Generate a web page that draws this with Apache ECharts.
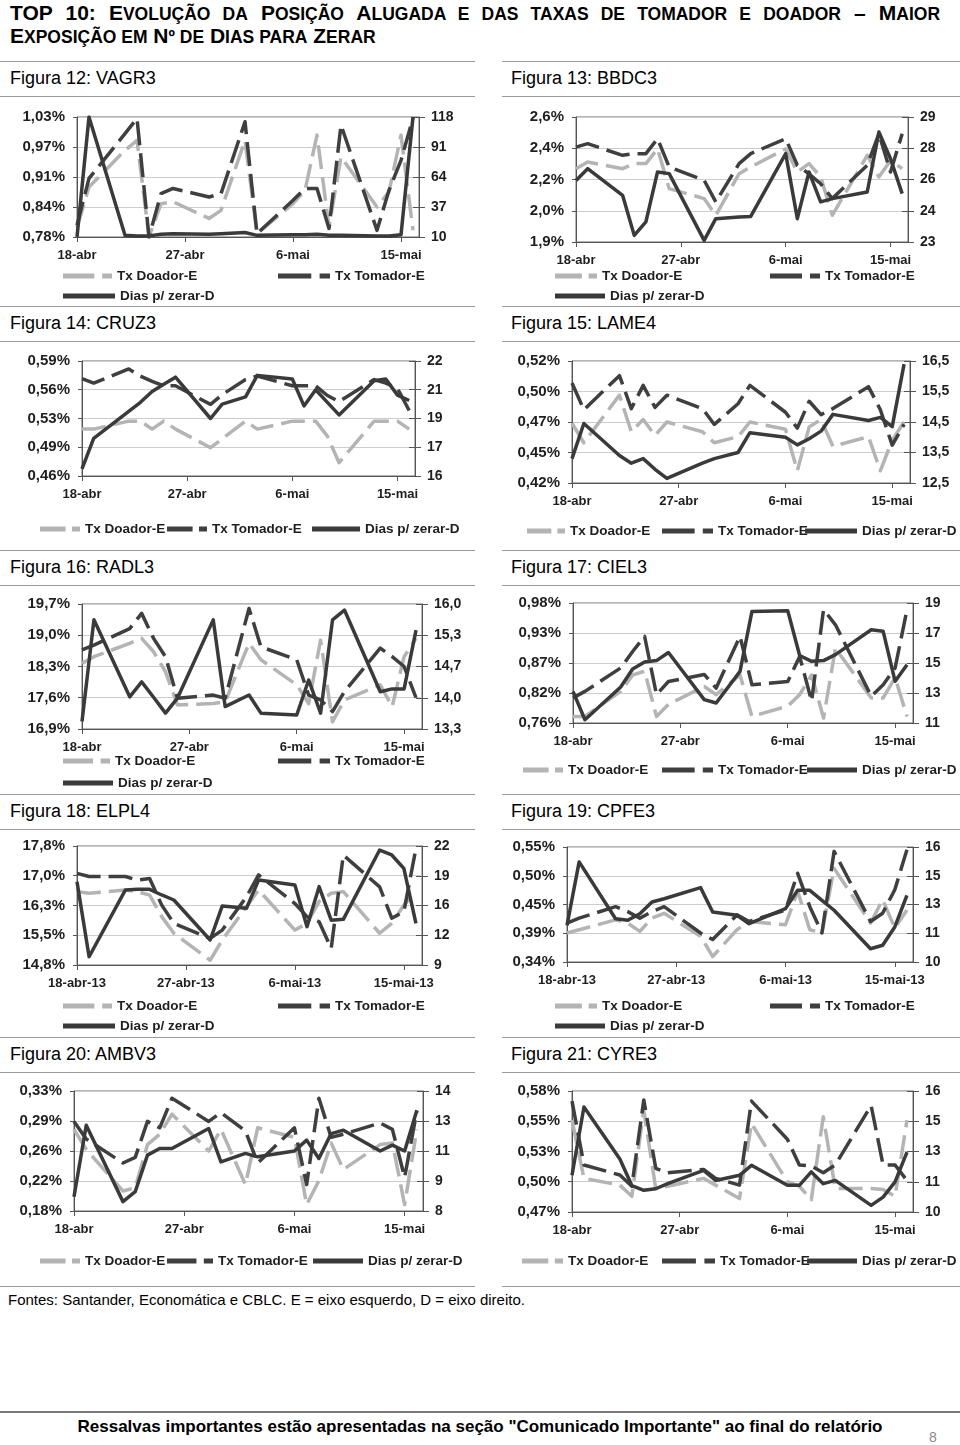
<!DOCTYPE html>
<html lang="pt"><head><meta charset="utf-8"><title>TOP 10 - Posição Alugada</title>
<script src="https://cdn.jsdelivr.net/npm/echarts@6.0.0/dist/echarts.min.js"></script>
<style>
html,body{margin:0;padding:0;background:#fff}
body{position:relative;width:960px;height:1445px;overflow:hidden;font-family:'Liberation Sans',Arial,Helvetica,sans-serif;color:#000}
.abs{position:absolute}
.title{left:10px;font-weight:bold;font-size:21px;line-height:23px;white-space:nowrap}
.title .s{font-size:17.5px;text-transform:uppercase}
.just{width:930px;text-align:justify;text-align-last:justify}
.fig{font-size:18px;line-height:20px;white-space:nowrap}
.rule{height:1px;background:#9a9a9a}
</style></head>
<body>
<div class="abs title just" style="top:1px">TOP 10: E<span class="s">volução da</span> P<span class="s">osição</span> A<span class="s">lugada e das taxas de tomador e doador</span> – M<span class="s">aior</span></div>
<div class="abs title" style="top:24px">E<span class="s">xposição em</span> N<span class="s">º de</span> D<span class="s">ias para</span> Z<span class="s">erar</span></div>
<div id="labels"></div>
<div class="abs" style="left:8px;top:1291px;font-size:15px;line-height:18px;white-space:nowrap">Fontes: Santander, Economática e CBLC. E = eixo esquerdo, D = eixo direito.</div>
<div class="abs" style="left:0;top:1411px;width:960px;height:2px;background:#7a7a7a"></div>
<div class="abs" style="left:0;top:1417px;width:960px;text-align:center;font-weight:bold;font-size:17px;line-height:20px;white-space:nowrap">Ressalvas importantes estão apresentadas na seção "Comunicado Importante" ao final do relatório</div>
<div class="abs" style="left:929px;top:1429px;font-size:14px;color:#8a8a8a">8</div>
<script>
// ---------- data ----------
const dates = ['2013-04-18','2013-04-19','2013-04-22','2013-04-23','2013-04-24','2013-04-25','2013-04-26','2013-04-29','2013-04-30','2013-05-02','2013-05-03','2013-05-06','2013-05-07','2013-05-08','2013-05-09','2013-05-10','2013-05-13','2013-05-14','2013-05-15','2013-05-16'];
const xTickDates = ['2013-04-18','2013-04-27','2013-05-06','2013-05-15'];
const xTickLabels = ['18-abr','27-abr','6-mai','15-mai'];
const xTickLabelsYear = ['18-abr-13','27-abr-13','6-mai-13','15-mai-13'];
const seriesNames = ['Tx Doador-E','Tx Tomador-E','Dias p/ zerar-D'];

const vagr3Doador  = [0.800,0.885,0.962,0.983,0.780,0.850,0.854,0.819,0.836,0.983,0.787,0.850,0.878,0.994,0.801,0.948,0.843,0.875,0.994,0.794];
const vagr3Tomador = [0.805,0.903,0.997,1.029,0.780,0.871,0.882,0.864,0.871,1.022,0.787,0.857,0.882,0.882,0.798,1.015,0.794,0.878,0.941,1.030];
const vagr3Dias    = [10,118,11.5,11,11,12.5,13,12.5,13,14,11.5,12,12,12.5,11.5,11.5,11,11,12,118];

const bbdc3Doador  = [2.294,2.334,2.294,2.324,2.324,2.412,2.176,2.117,2.018,2.264,2.304,2.412,2.274,2.324,2.245,2.018,2.373,2.245,2.343,2.294];
const bbdc3Tomador = [2.422,2.442,2.373,2.383,2.383,2.472,2.304,2.225,2.097,2.324,2.383,2.472,2.314,2.264,2.205,2.117,2.314,2.501,2.274,2.501];
const bbdc3Dias    = [25.95,26.59,25.14,22.96,23.69,26.41,26.32,22.69,23.87,23.96,23.99,27.41,23.87,26.41,24.78,24.96,25.32,28.58,27.13,25.23];

const cruz3Doador  = [0.514,0.514,0.523,0.523,0.514,0.523,0.514,0.493,0.503,0.523,0.514,0.523,0.523,0.523,0.506,0.476,0.523,0.523,0.523,0.514];
const cruz3Tomador = [0.571,0.566,0.582,0.574,0.568,0.563,0.563,0.542,0.553,0.570,0.574,0.563,0.563,0.563,0.552,0.545,0.570,0.566,0.560,0.535];
const cruz3Dias    = [16.2,17.9,19.4,19.9,20.5,20.9,21.3,19.0,19.8,20.2,21.4,21.2,19.7,20.6,19.9,19.2,21.1,21.2,20.3,20.0];

const lame4Doador  = [0.471,0.455,0.494,0.464,0.474,0.461,0.472,0.464,0.455,0.460,0.472,0.466,0.432,0.468,0.474,0.452,0.460,0.432,0.457,0.472];
const lame4Tomador = [0.504,0.482,0.510,0.483,0.502,0.484,0.494,0.483,0.470,0.487,0.502,0.480,0.467,0.489,0.478,0.483,0.501,0.482,0.453,0.470];
const lame4Dias    = [13.3,14.45,13.4,13.15,13.3,12.95,12.65,13.15,13.3,13.5,14.15,14.0,13.75,13.95,14.2,14.75,14.55,14.65,14.35,16.4];

const radl3Doador  = [18.37,18.52,18.82,18.93,18.63,18.18,17.44,17.47,17.51,18.82,18.45,17.89,17.47,18.89,17.06,17.55,17.89,17.40,18.52,18.93];
const radl3Tomador = [18.67,18.78,19.15,19.49,18.93,18.52,17.59,17.66,17.59,19.60,18.74,18.45,17.66,17.55,17.29,17.74,18.71,18.52,18.30,17.60];
const radl3Dias    = [13.48,15.66,14.01,14.33,14.00,13.66,13.98,15.66,13.80,14.05,13.66,13.62,14.37,13.66,15.66,15.87,14.12,14.18,14.18,15.44];

const ciel3Doador  = [0.774,0.774,0.820,0.850,0.857,0.774,0.796,0.829,0.814,0.850,0.774,0.793,0.814,0.850,0.771,0.899,0.808,0.808,0.845,0.774];
const ciel3Tomador = [0.808,0.820,0.863,0.893,0.921,0.814,0.838,0.851,0.826,0.921,0.832,0.838,0.884,0.802,0.970,0.942,0.811,0.832,0.863,0.970];
const ciel3Dias    = [13.11,11.22,13.4,14.6,15.07,15.16,15.7,12.56,12.33,14.44,18.44,18.49,15.5,15.11,15.16,15.56,17.22,17.11,13.78,14.89];

const elpl4Doador  = [16.63,16.59,16.67,16.63,16.54,16.00,15.58,14.90,15.41,16.25,16.67,15.66,15.83,16.38,16.59,16.63,15.58,15.83,16.29,16.63];
const elpl4Tomador = [17.09,17.01,17.01,16.92,16.96,16.29,15.83,15.45,15.66,16.50,17.05,16.33,16.00,15.87,15.20,17.55,16.75,15.96,16.12,17.72];
const elpl4Dias    = [18.2,10.0,17.3,17.37,17.37,16.75,16.2,11.83,15.55,15.29,18.39,17.84,13.29,17.66,14.0,14.09,21.66,21.12,19.66,13.65];

const cpfe3Doador  = [0.394,0.400,0.418,0.412,0.397,0.421,0.430,0.388,0.351,0.400,0.415,0.409,0.470,0.400,0.394,0.512,0.412,0.455,0.403,0.436];
const cpfe3Tomador = [0.412,0.421,0.442,0.433,0.421,0.433,0.442,0.394,0.382,0.427,0.415,0.436,0.503,0.442,0.394,0.543,0.415,0.430,0.473,0.546];
const cpfe3Dias    = [11.84,15.37,12.21,12.12,12.49,13.14,13.32,13.94,12.58,12.40,11.93,12.77,13.79,13.79,13.23,12.68,10.54,10.73,11.75,13.51];

const ambv3Doador  = [0.283,0.258,0.206,0.210,0.264,0.277,0.302,0.256,0.283,0.214,0.285,0.273,0.189,0.219,0.266,0.233,0.264,0.266,0.189,0.283];
const ambv3Tomador = [0.293,0.271,0.241,0.248,0.293,0.285,0.322,0.293,0.304,0.281,0.241,0.285,0.214,0.322,0.273,0.277,0.291,0.283,0.223,0.306];
const ambv3Dias    = [8.56,12.37,8.3,8.83,10.78,11.13,11.13,12.2,10.42,10.87,10.69,11.0,11.58,10.6,11.93,12.11,11.0,11.31,11.0,13.17];

const cyre3Doador  = [0.554,0.502,0.496,0.486,0.563,0.493,0.495,0.502,0.496,0.484,0.551,0.499,0.495,0.483,0.557,0.493,0.493,0.492,0.486,0.554];
const cyre3Tomador = [0.571,0.514,0.505,0.495,0.572,0.511,0.507,0.510,0.502,0.496,0.571,0.537,0.514,0.513,0.507,0.514,0.567,0.514,0.514,0.500];
const cyre3Dias    = [11.74,15.35,12.6,11.2,10.95,11.03,11.3,12.0,11.47,11.74,12.27,11.21,11.21,11.92,11.3,11.47,10.15,10.59,11.39,12.97];

// ---------- layout / axis settings ----------
const FONT = "'Liberation Sans', Arial, Helvetica, sans-serif";
const X_MAX = 28.5;
const panels = [
 {fig:'Figura 12: VAGR3', d:vagr3Doador, t:vagr3Tomador, z:vagr3Dias, l:[0.78,1.032,2], r:[10,118,0], col:0, xl:77, xr:419, yt:117, yb:237, xlab:xTickLabels, ly:78, leg:[[63,277,49],[278,277,52],[63,297,52]]},
 {fig:'Figura 13: BBDC3', d:bbdc3Doador, t:bbdc3Tomador, z:bbdc3Dias, l:[1.86,2.6,1], r:[22.6,29.4,0], col:1, xl:576, xr:908, yt:117, yb:242, xlab:xTickLabels, ly:78, leg:[[555,277,42],[770,277,50],[555,297,50]]},
 {fig:'Figura 14: CRUZ3', d:cruz3Doador, t:cruz3Tomador, z:cruz3Dias, l:[0.461,0.591,2], r:[15.8,22.2,0], col:0, xl:82, xr:415, yt:361, yb:476, xlab:xTickLabels, ly:323, leg:[[40,530,40],[167,530,40],[312,530,48]]},
 {fig:'Figura 15: LAME4', d:lame4Doador, t:lame4Tomador, z:lame4Dias, l:[0.422,0.522,2], r:[12.5,16.5,1], col:1, xl:572, xr:910, yt:361, yb:483, xlab:xTickLabels, ly:323, leg:[[527,532,38],[662,532,51],[805,532,52]]},
 {fig:'Figura 16: RADL3', d:radl3Doador, t:radl3Tomador, z:radl3Dias, l:[16.9,19.7,1], r:[13.32,16.0,1], col:0, xl:82, xr:422, yt:604, yb:729, xlab:xTickLabels, ly:567, leg:[[63,762,47],[278,762,52],[63,784,50]]},
 {fig:'Figura 17: CIEL3', d:ciel3Doador, t:ciel3Tomador, z:ciel3Dias, l:[0.762,0.982,2], r:[11,19,0], col:1, xl:573, xr:913, yt:603, yb:723, xlab:xTickLabels, ly:567, leg:[[523,771,40],[662,771,51],[807,771,50]]},
 {fig:'Figura 18: ELPL4', d:elpl4Doador, t:elpl4Tomador, z:elpl4Dias, l:[14.78,17.78,1], r:[9.1,22.1,0], col:0, xl:77, xr:422, yt:846, yb:965, xlab:xTickLabelsYear, ly:811, leg:[[63,1007,49],[278,1007,52],[63,1027,52]]},
 {fig:'Figura 19: CPFE3', d:cpfe3Doador, t:cpfe3Tomador, z:cpfe3Dias, l:[0.341,0.551,2], r:[9.8,16.2,0], col:1, xl:567, xr:913, yt:847, yb:962, xlab:xTickLabelsYear, ly:811, leg:[[555,1007,42],[770,1007,50],[555,1027,50]]},
 {fig:'Figura 20: AMBV3', d:ambv3Doador, t:ambv3Tomador, z:ambv3Dias, l:[0.181,0.331,2], r:[7.8,14.2,0], col:0, xl:74, xr:423, yt:1091, yb:1211, xlab:xTickLabels, ly:1054, leg:[[40,1262,40],[167,1262,46],[313,1262,50]]},
 {fig:'Figura 21: CYRE3', d:cyre3Doador, t:cyre3Tomador, z:cyre3Dias, l:[0.472,0.580,2], r:[9.8,16.2,0], col:1, xl:572, xr:913, yt:1091, yb:1212, xlab:xTickLabels, ly:1054, leg:[[522,1262,41],[662,1262,53],[807,1262,50]]}
];

const DAY = 86400000;
const t0 = Date.parse(dates[0]);
const dayOffset = dates.map(d => (Date.parse(d) - t0) / DAY);
const tickDays = xTickDates.map(d => (Date.parse(d) - t0) / DAY);
const fmtNum = (v, dec) => v.toFixed(dec).replace('.', ',');

// ---------- page labels & rules ----------
const lab = document.getElementById('labels');
function addDiv(css, cls, txt){ const e=document.createElement('div'); e.className='abs '+(cls||''); e.style.cssText=css; if(txt) e.textContent=txt; lab.appendChild(e); }
[78,323,567,811,1054,1303].forEach((y,i) => {
  addDiv(`left:0;top:${y-17}px;width:475px`, 'rule');
  addDiv(`left:502px;top:${y-17}px;width:458px`, 'rule');
  if (i < 5) {
    addDiv(`left:0;top:${y+18}px;width:475px`, 'rule');
    addDiv(`left:502px;top:${y+18}px;width:458px`, 'rule');
  }
});
panels.forEach(p => addDiv(`left:${p.col?511:10}px;top:${p.ly-10}px`, 'fig', p.fig));

// ---------- charts ----------
const AX = '#555555';
const LABEL = '#1e1e1e';
const COLORS = ['#b4b4b4', '#3f3f3f', '#3a3a3a'];
const DASH_ICON = 'path://M0,0H64V10H0Z M80,0H100V10H80Z';
const LEG_ICONS = [DASH_ICON, DASH_ICON, 'rect'];
function yAxis(rng, pct, pos, crossOnly){
  const [min,max,dec] = rng;
  const interval = +((max-min)/4).toFixed(8);
  return {
    type:'value', position:pos, min, max, interval, scale:true,
    axisLine:{show:!crossOnly, lineStyle:{color:AX, width:1}},
    axisTick:{show:true, inside:!!crossOnly, length:crossOnly?6:(pos==='right'?6:4), lineStyle:{color:AX, width:1}},
    axisLabel:{show:!crossOnly, margin:12, color:LABEL, fontSize:pct?15:14, fontWeight:'bold', fontFamily:FONT,
      formatter: v => fmtNum(v, dec) + (pct ? '%' : '')},
    splitLine:{show: pct && !crossOnly, lineStyle:{color:'#cdcdcd', width:1}}
  };
}
const toPts = vals => vals.map((v,i) => [dayOffset[i], v]);

panels.forEach(p => {
  const divLeft = p.col * 480;
  const divTop = p.yt - 20;
  const legBottom = Math.max(...p.leg.map(l => l[1])) + 12;
  const h = legBottom - divTop;
  const el = document.createElement('div');
  el.style.cssText = `position:absolute;left:${divLeft}px;top:${divTop}px;width:480px;height:${h}px`;
  document.body.appendChild(el);
  const chart = echarts.init(el, null, {renderer:'canvas', width:480, height:h});
  const lineBase = {type:'line', symbol:'none', showSymbol:false, animation:false, silent:true};
  chart.setOption({
    animation:false,
    grid:{left:p.xl-divLeft, top:20, width:p.xr-p.xl, height:p.yb-p.yt, show:true, borderColor:'#6a6a6a', borderWidth:1, backgroundColor:'transparent', containLabel:false},
    xAxis:{type:'value', min:0, max:X_MAX, interval:9,
      axisLine:{show:true, onZero:false, lineStyle:{color:AX, width:1}},
      axisTick:{show:true, length:5, lineStyle:{color:AX}},
      axisLabel:{margin:12, color:LABEL, fontSize:13, fontWeight:'bold', fontFamily:FONT, showMaxLabel:false,
        formatter: v => { const i = tickDays.indexOf(v); return i >= 0 ? p.xlab[i] : ''; }},
      splitLine:{show:false}},
    yAxis:[yAxis(p.l, true, 'left'), yAxis(p.r, false, 'right'), yAxis(p.r, false, 'right', true)],
    legend: p.leg.map((l,i) => ({
      data:[{name:seriesNames[i], icon:LEG_ICONS[i]}], left:l[0]-divLeft, top:l[1]-divTop-8, itemWidth:l[2], itemHeight:5,
      symbolKeepAspect:false, padding:0, itemGap:0, selectedMode:false,
      textStyle:{fontSize:13.5, fontWeight:'bold', color:LABEL, fontFamily:FONT},
      itemStyle:{color:COLORS[i], borderWidth:0}
    })),
    series:[
      Object.assign({}, lineBase, {name:seriesNames[0], yAxisIndex:0, data:toPts(p.d), z:2,
        lineStyle:{color:COLORS[0], width:3.5, type:[24,8], join:'round'}, itemStyle:{color:COLORS[0]}}),
      Object.assign({}, lineBase, {name:seriesNames[1], yAxisIndex:0, data:toPts(p.t), z:3,
        lineStyle:{color:COLORS[1], width:3.5, type:[24,8], join:'round'}, itemStyle:{color:COLORS[1]}}),
      Object.assign({}, lineBase, {name:seriesNames[2], yAxisIndex:1, data:toPts(p.z), z:4,
        lineStyle:{color:COLORS[2], width:3.5, type:'solid', join:'round'}, itemStyle:{color:COLORS[2]}})
    ]
  });
});
</script>
</body></html>
